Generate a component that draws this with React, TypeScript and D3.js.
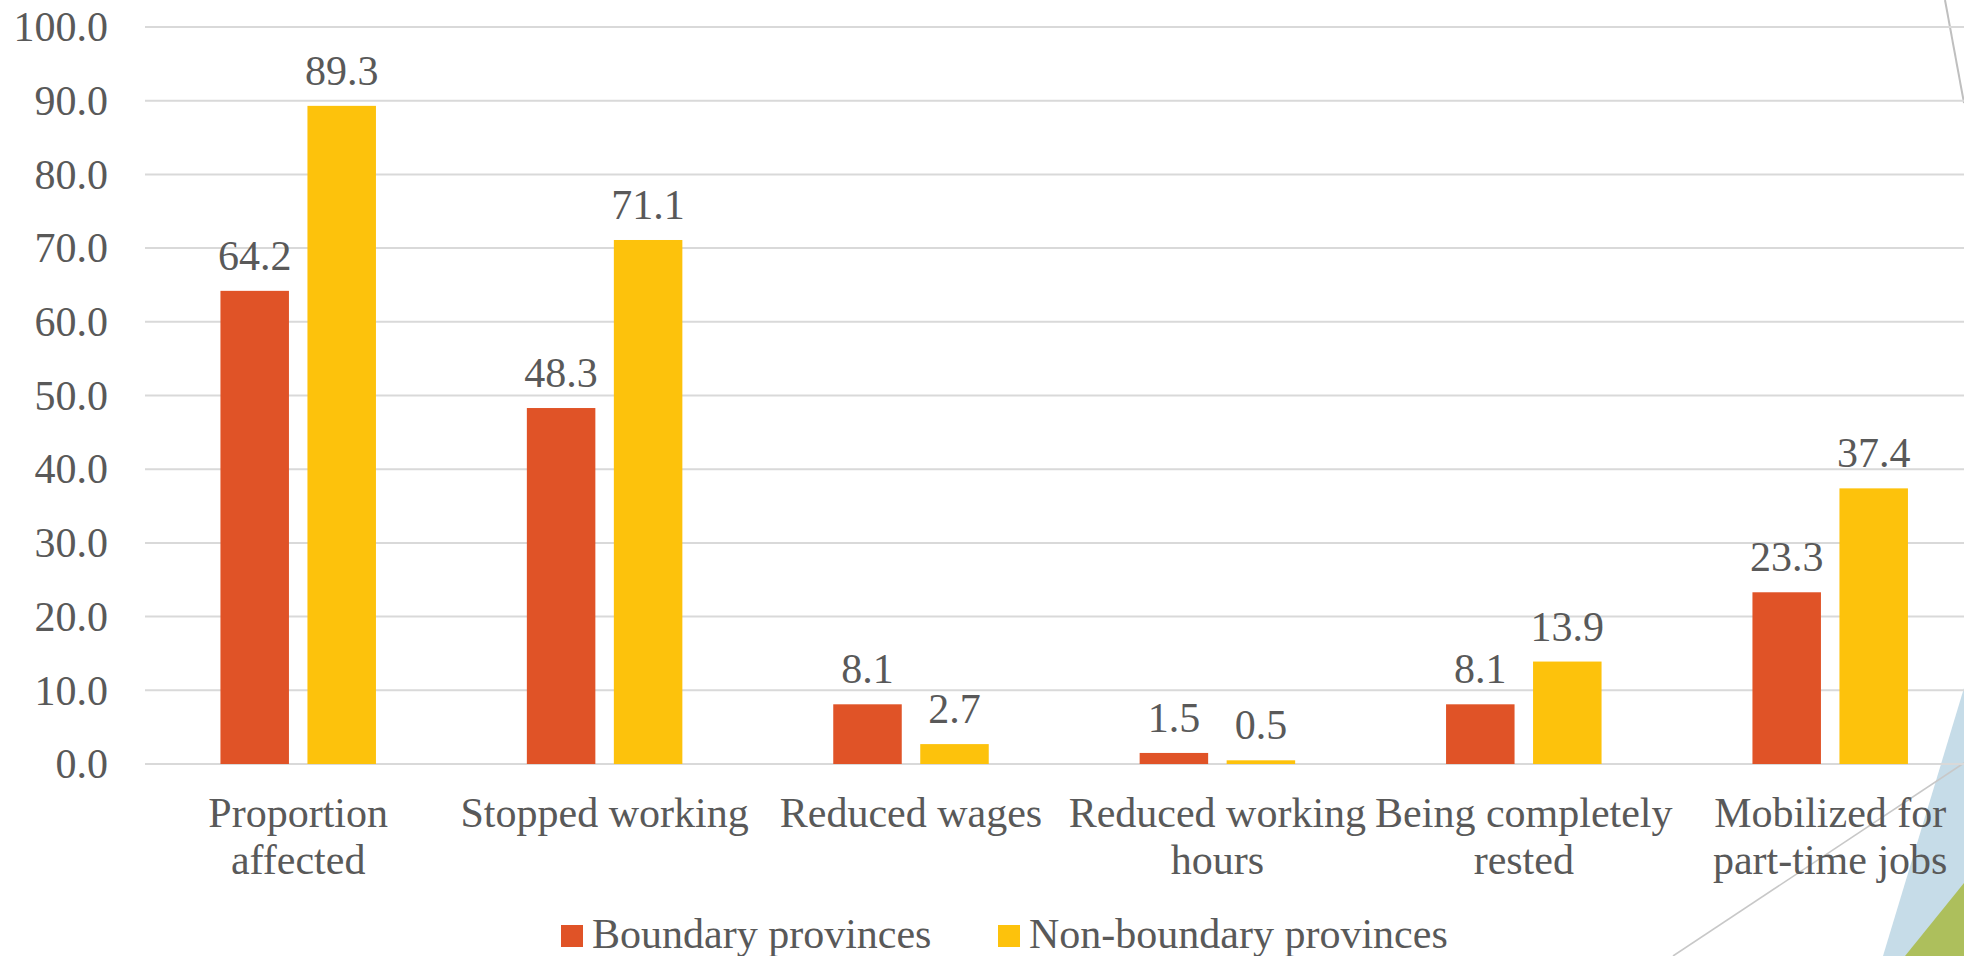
import React from "react";
import * as d3 from "d3";

const categories: string[][] = [
  ["Proportion", "affected"],
  ["Stopped working"],
  ["Reduced wages"],
  ["Reduced working", "hours"],
  ["Being completely", "rested"],
  ["Mobilized for", "part-time jobs"],
];
const boundary = [64.2, 48.3, 8.1, 1.5, 8.1, 23.3];
const nonBoundary = [89.3, 71.1, 2.7, 0.5, 13.9, 37.4];
const seriesNames = ["Boundary provinces", "Non-boundary provinces"];
const seriesColors = ["#E05327", "#FDC20C"];
const yTicks = [0, 10, 20, 30, 40, 50, 60, 70, 80, 90, 100];

const W = 1964;
const H = 956;
const FONT = "'Liberation Serif', 'Times New Roman', Times, serif";
const TEXT = "#595959";

export default function App() {
  const left = 145;
  const band = 306.4;
  const x = d3
    .scaleBand<number>()
    .domain(d3.range(categories.length))
    .range([left, left + band * categories.length])
    .paddingInner(0)
    .paddingOuter(0);
  const y = d3.scaleLinear().domain([0, 100]).range([764, 27]);

  const barW = 68.5;
  const innerGap = 18.5;
  const series = [boundary, nonBoundary];

  return (
    <svg
      width={W}
      height={H}
      style={{
        position: "fixed",
        left: 0,
        top: 0,
        display: "block",
        background: "#fff",
        fontFamily: FONT,
      }}
    >
      {/* slide theme decorations */}
      <polygon points="1964,688 1883,956 1964,956" fill="#C6DCE8" />
      <polygon points="1964,883 1905,956 1964,956" fill="#ADBF5C" />
      <line x1={1673} y1={956} x2={1964} y2={763} stroke="#C8C8C8" strokeWidth={1.6} />
      <line x1={1945} y1={0} x2={1964} y2={103} stroke="#BFBFBF" strokeWidth={2} />

      {/* gridlines */}
      {yTicks.map((t) => (
        <line key={t} x1={left} x2={W} y1={y(t)} y2={y(t)} stroke="#D9D9D9" strokeWidth={2} />
      ))}

      {/* y tick labels */}
      {yTicks.map((t) => (
        <text
          key={"l" + t}
          x={108}
          y={y(t)}
          dy="0.34em"
          textAnchor="end"
          fontSize={42}
          fill={TEXT}
        >
          {t.toFixed(1)}
        </text>
      ))}

      {/* bars and value labels */}
      {categories.map((_, i) => {
        const cx = (x(i) as number) + x.bandwidth() / 2;
        return series.map((s, k) => {
          const bx = k === 0 ? cx - innerGap / 2 - barW : cx + innerGap / 2;
          const v = s[i];
          return (
            <g key={i + "-" + k}>
              <rect x={bx} y={y(v)} width={barW} height={y(0) - y(v)} fill={seriesColors[k]} />
              <text
                x={bx + barW / 2}
                y={y(v) - 21}
                textAnchor="middle"
                fontSize={42}
                fill={TEXT}
              >
                {v.toFixed(1)}
              </text>
            </g>
          );
        });
      })}

      {/* category labels */}
      {categories.map((lines, i) => {
        const cx = (x(i) as number) + x.bandwidth() / 2;
        return (
          <text key={"c" + i} textAnchor="middle" fontSize={42} fill={TEXT}>
            {lines.map((ln, j) => (
              <tspan key={j} x={cx} y={827 + j * 47}>
                {ln}
              </tspan>
            ))}
          </text>
        );
      })}

      {/* legend */}
      {seriesNames.map((name, k) => {
        const lx = k === 0 ? 561 : 998;
        return (
          <g key={name}>
            <rect x={lx} y={925} width={22} height={22} fill={seriesColors[k]} />
            <text x={lx + 31} y={948} fontSize={42} fill={TEXT}>
              {name}
            </text>
          </g>
        );
      })}
    </svg>
  );
}
